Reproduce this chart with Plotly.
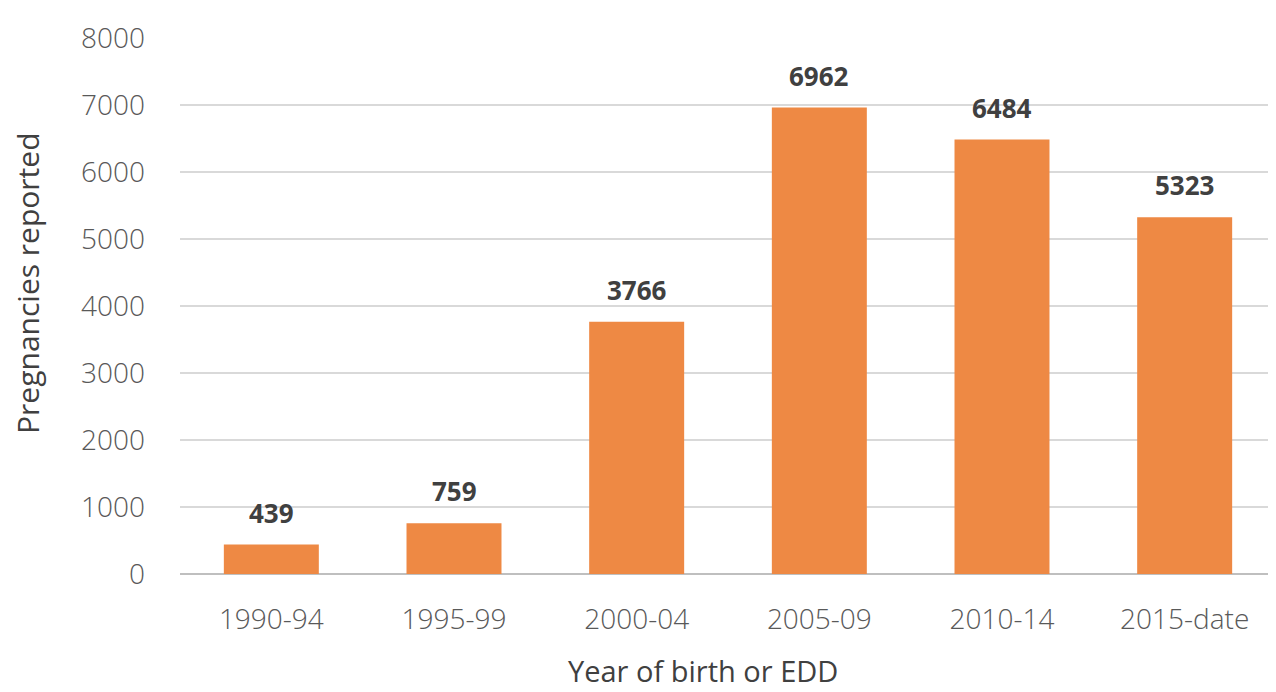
import plotly.graph_objects as go

categories = ["1990-94", "1995-99", "2000-04", "2005-09", "2010-14", "2015-date"]
values = [439, 759, 3766, 6962, 6484, 5323]
y_ticks = [0, 1000, 2000, 3000, 4000, 5000, 6000, 7000, 8000]

fig = go.Figure(go.Bar(
    x=categories, y=values,
    marker=dict(color="rgb(238,137,68)", line=dict(width=0)),
    hoverinfo="x+y",
))

for c, v in zip(categories, values):
    fig.add_annotation(x=c, y=v, text=f"<b>{v}</b>", showarrow=False,
                       yanchor="bottom", yshift=12,
                       font=dict(family="Open Sans", size=26, color="#404040"))

fig.add_annotation(xref="paper", yref="paper", x=0.477, y=-0.180,
                   text="Year of birth or EDD", showarrow=False,
                   xanchor="center", yanchor="middle",
                   font=dict(family="Open Sans", size=29, color="#404040"))
fig.add_annotation(xref="paper", yref="paper", x=-0.1387, y=0.543,
                   text="Pregnancies reported", showarrow=False, textangle=-90,
                   xanchor="center", yanchor="middle",
                   font=dict(family="Open Sans", size=30, color="#404040"))

fig.update_layout(
    width=1268, height=684,
    margin=dict(l=172, r=0, t=30, b=118),
    paper_bgcolor="white", plot_bgcolor="white",
    bargap=0.48,
    showlegend=False,
    font=dict(family="Open Sans", color="#595959"),
    xaxis=dict(
        type="category", automargin=False,
        showgrid=False, ticks="", showline=False,
        tickfont=dict(size=28, color="#595959", weight=300), ticklabelstandoff=26,
    ),
    yaxis=dict(
        range=[0, 8000], tickvals=y_ticks, automargin=False,
        showgrid=True, gridcolor="#D9D9D9", gridwidth=2,
        zeroline=True, zerolinecolor="#BFBFBF", zerolinewidth=2,
        tickfont=dict(size=28, color="#595959", weight=300), ticks="", ticklabelstandoff=34,
    ),
)

fig.write_html("out.html")
